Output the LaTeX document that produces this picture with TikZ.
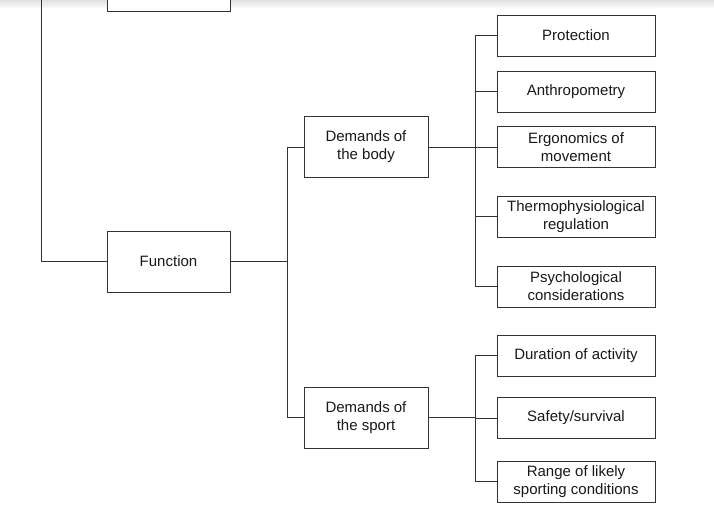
\documentclass[tikz,border=0pt]{standalone}
\usepackage{fontspec}
\setmainfont{Liberation Sans}
\begin{document}
\begin{tikzpicture}[x=1pt,y=-1pt,
  box/.style={draw=black!80,line width=1pt,fill=white,align=center,inner sep=0pt,
    font=\fontsize{15}{18}\selectfont,text=black!90},
  leaf/.style={box,minimum width=158pt,minimum height=41pt},
  mid/.style={box,minimum width=124pt,minimum height=61pt},
  conn/.style={draw=black!80,line width=1pt}]
\useasboundingbox (0,0) rectangle (714,512);
\clip (0,0) rectangle (714,512);
\shade[top color=black!12,bottom color=white] (0,0) rectangle (714,9);
% nodes
\node[mid,minimum width=123pt] (top) at (168.5,-19.5) {};
\node[mid,minimum width=123pt] (func) at (168.5,261.5) {Function};
\node[mid] (body) at (366,147) {Demands of\\the body};
\node[mid] (sport) at (366,417.5) {Demands of\\the sport};
\node[leaf] (prot) at (576,35.5) {Protection};
\node[leaf] (anth) at (576,91.5) {Anthropometry};
\node[leaf] (ergo) at (576,147) {Ergonomics of\\movement};
\node[leaf] (thermo) at (576,216.5) {Thermophysiological\\regulation};
\node[leaf] (psych) at (576,286.5) {Psychological\\considerations};
\node[leaf] (dur) at (576,355.5) {Duration of activity};
\node[leaf] (safe) at (576,418) {Safety/survival};
\node[leaf] (range) at (576,481.5) {Range of likely\\sporting conditions};
\coordinate (free) at (41,-40);
% connectors
\draw[conn] (free) |- (func.west);
\draw[conn] (body.west) -- ++(-16,0) |- (func.east);
\draw[conn] (sport.west) -- ++(-16,0) |- (func.east);
\draw[conn] (body.east) -- (ergo.west);
\foreach \n in {prot,anth,thermo,psych}
  \draw[conn] (\n.west) -- ++(-21,0) |- (body.east);
\foreach \n in {dur,safe,range}
  \draw[conn] (\n.west) -- ++(-21,0) |- (sport.east);
\end{tikzpicture}
\end{document}
